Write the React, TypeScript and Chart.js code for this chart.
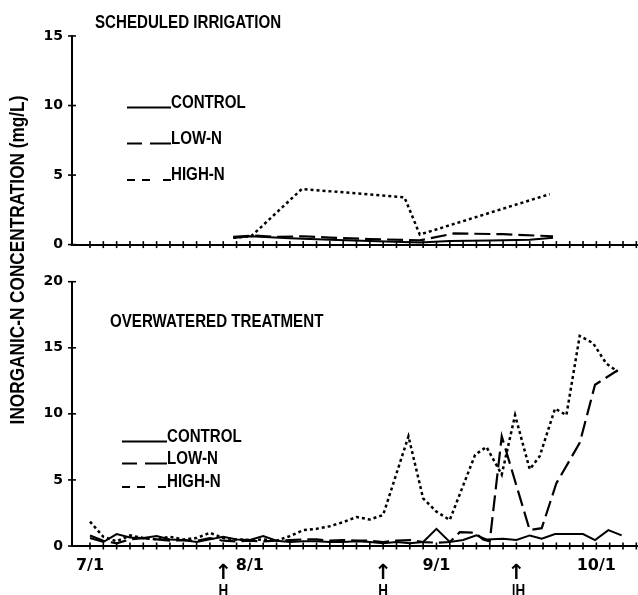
import { useEffect, useRef } from "react";
import { Chart, registerables } from "chart.js";

Chart.register(...registerables);

// x values are expressed in units of the axis tick marks (tick 0 = 7/1)
const xTickMarks = [
  0, 1, 2, 3, 4, 5, 6, 7, 8, 9, 10, 11, 12, 13, 14, 15, 16, 17, 18, 19, 20,
  21, 22, 23, 24, 25, 26, 27, 28, 29, 30, 31, 32, 33, 34, 35, 36, 37, 38, 39, 40, 41,
];
const dateTickPositions = [0, 12, 26, 38];
const dateTickLabels = ["7/1", "8/1", "9/1", "10/1"];
const harvestPositions = [10, 22, 32];
const harvestLabels = ["H", "H", "|H"];
const seriesLabels = ["CONTROL", "LOW-N", "HIGH-N"];

const topYTicks = [0, 5, 10, 15];
const bottomYTicks = [0, 5, 10, 15, 20];

// Scheduled irrigation
const schedControlX = [10.75, 12, 15, 18, 21, 24.75, 27, 30, 33, 34.75];
const schedControlY = [0.48, 0.6, 0.45, 0.35, 0.25, 0.15, 0.25, 0.3, 0.35, 0.5];
const schedLowX = [10.75, 12.2, 14, 16, 18, 21, 24.75, 27.3, 31, 34.75];
const schedLowY = [0.55, 0.65, 0.55, 0.6, 0.5, 0.4, 0.3, 0.8, 0.75, 0.6];
const schedHighX = [10.75, 12.1, 15.9, 23.6, 24.75, 34.5];
const schedHighY = [0.5, 0.6, 4.0, 3.4, 0.72, 3.63];

// Overwatered treatment
const overControlX = [
  0, 1, 2, 3, 4, 5, 6, 7, 8, 9, 10, 11, 12, 13, 14, 15, 16, 17, 18, 19, 20, 21,
  22, 23, 24, 25, 26, 27, 28, 29, 29.75, 31, 32, 33, 33.9, 34.9, 36, 37, 37.9, 38.9, 39.9,
];
const overControlY = [
  0.6, 0.3, 0.9, 0.65, 0.6, 0.75, 0.5, 0.45, 0.3, 0.5, 0.7, 0.5, 0.45, 0.75, 0.4,
  0.3, 0.35, 0.35, 0.3, 0.3, 0.35, 0.3, 0.2, 0.3, 0.2, 0.3, 1.3, 0.3, 0.45, 0.8,
  0.5, 0.55, 0.45, 0.8, 0.55, 0.9, 0.9, 0.9, 0.45, 1.2, 0.8,
];
const overLowX = [
  0, 1, 2, 3, 4, 5, 6, 7, 8, 9, 10, 11, 12, 13, 14, 15, 16, 17, 18, 19, 20, 21,
  22, 23, 24, 25, 26, 27, 27.75, 28.9, 29.5, 30, 30.9, 33, 33.9, 35, 36.75, 37.9, 39.6,
];
const overLowY = [
  0.8, 0.4, 0.2, 0.5, 0.6, 0.5, 0.4, 0.45, 0.4, 0.6, 0.4, 0.35, 0.4, 0.35, 0.4,
  0.45, 0.5, 0.5, 0.4, 0.45, 0.4, 0.4, 0.3, 0.4, 0.45, 0.3, 0.25, 0.3, 1.05, 1.0,
  0.5, 0.35, 8.3, 1.2, 1.35, 4.75, 7.8, 12.2, 13.3,
];
const overHighX = [
  0, 1, 2, 3, 4, 5, 6, 7, 8, 9, 10, 11, 12, 13, 14, 15, 16, 17, 18, 19, 20, 21,
  22, 23.9, 25, 26, 27, 28.9, 29.75, 30.9, 31.9, 33, 33.75, 34.9, 35.75, 36.75,
  37.75, 38.75, 39.6,
];
const overHighY = [
  1.85, 0.7, 0.35, 0.8, 0.6, 0.5, 0.7, 0.5, 0.6, 1.0, 0.6, 0.5, 0.45, 0.5, 0.4,
  0.75, 1.2, 1.3, 1.5, 1.8, 2.2, 2.0, 2.35, 8.3, 3.6, 2.6, 1.97, 6.9, 7.5, 5.4,
  9.9, 5.8, 6.8, 10.4, 9.9, 15.9, 15.35, 13.8, 13.2,
];

const SANS = "'Liberation Sans', Arial, sans-serif";
const SQUEEZE = 0.84;

const seriesStyles = [
  { borderDash: [] as number[], borderWidth: 2, legendDash: [] as number[] },
  { borderDash: [16, 6], borderWidth: 2.2, legendDash: [15, 8, 40] },
  { borderDash: [3, 3], borderWidth: 2.5, legendDash: [8, 7, 8, 13, 8, 40] },
];

function pts(xs: number[], ys: number[]) {
  return xs.map((x, i) => ({ x, y: ys[i] }));
}

function narrowText(ctx: CanvasRenderingContext2D, text: string, x: number, y: number) {
  ctx.save();
  ctx.translate(x, y);
  ctx.scale(SQUEEZE, 1);
  ctx.fillText(text, 0, 0);
  ctx.restore();
}

const decorPlugin = {
  id: "decor",
  afterDraw(chart: any, _args: any, opts: any) {
    const { ctx, chartArea } = chart;
    const xs = chart.scales.x;
    const ys = chart.scales.y;
    const line = (x1: number, y1: number, x2: number, y2: number) => {
      ctx.beginPath();
      ctx.moveTo(x1, y1);
      ctx.lineTo(x2, y2);
      ctx.stroke();
    };
    ctx.save();
    ctx.strokeStyle = "#000";
    ctx.fillStyle = "#000";
    ctx.lineWidth = 1.6;
    const y0 = ys.getPixelForValue(0);
    for (const t of xTickMarks) {
      const px = xs.getPixelForValue(t);
      if (px > chartArea.right + 0.5) continue;
      line(px, y0 - 3.5, px, y0 + 3.5);
    }
    for (const v of opts.yTicks) {
      const py = ys.getPixelForValue(v);
      line(chartArea.left - 4, py, chartArea.left + 4, py);
    }
    // legend
    ctx.font = `bold 18px ${SANS}`;
    ctx.textBaseline = "alphabetic";
    ctx.textAlign = "left";
    chart.data.datasets.forEach((ds: any, i: number) => {
      const ly = opts.legendRows[i];
      ctx.lineWidth = 2;
      ctx.setLineDash(ds.legendDash || []);
      line(opts.legendX0, ly, opts.legendX1, ly);
      ctx.setLineDash([]);
      narrowText(ctx, ds.label, opts.legendX1, ly);
    });
    // panel title
    narrowText(ctx, opts.title, opts.titleX, opts.titleY);
    // harvest markers
    if (opts.harvest) {
      harvestPositions.forEach((t, i) => {
        const px = xs.getPixelForValue(t);
        ctx.textAlign = "center";
        ctx.textBaseline = "middle";
        ctx.font = "bold 21px 'DejaVu Sans', sans-serif";
        ctx.fillText("\u2191", px, opts.arrowY);
        ctx.textBaseline = "top";
        ctx.font = `bold 16px ${SANS}`;
        const label = harvestLabels[i];
        narrowText(ctx, label, px + (label.length > 1 ? 2 : 0), opts.hY);
      });
    }
    ctx.restore();
  },
};

function makeConfig(p: {
  datasets: { x: number[]; y: number[] }[];
  yMax: number;
  yTicks: number[];
  padTop: number;
  xAxisH: number;
  showX: boolean;
  decor: any;
}): any {
  return {
    type: "line",
    data: {
      datasets: p.datasets.map((d, i) => ({
        label: seriesLabels[i],
        data: pts(d.x, d.y),
        borderColor: "#000",
        backgroundColor: "#000",
        borderWidth: seriesStyles[i].borderWidth,
        borderDash: seriesStyles[i].borderDash,
        legendDash: seriesStyles[i].legendDash,
        pointRadius: 0,
        tension: 0,
        fill: false,
      })),
    },
    options: {
      animation: false,
      responsive: false,
      layout: { padding: { top: p.padTop, right: 1, left: 0, bottom: 0 } },
      plugins: {
        legend: { display: false },
        tooltip: { enabled: false },
        decor: p.decor,
      },
      scales: {
        x: {
          type: "linear",
          min: -1.35,
          max: 41.05,
          afterFit: (s: any) => {
            s.height = p.xAxisH;
          },
          afterBuildTicks: (s: any) => {
            s.ticks = dateTickPositions.map((v) => ({ value: v }));
          },
          grid: { display: false, drawTicks: false },
          border: { display: true, color: "#000", width: 2 },
          ticks: {
            display: p.showX,
            autoSkip: false,
            maxRotation: 0,
            padding: 10,
            color: "#000",
            font: { family: "'DejaVu Sans', sans-serif", weight: "bold", size: 16 },
            callback: (v: number) => {
              const k = dateTickPositions.indexOf(v);
              return k >= 0 ? dateTickLabels[k] : "";
            },
          },
        },
        y: {
          min: 0,
          max: p.yMax,
          afterFit: (s: any) => {
            s.width = 72;
          },
          afterBuildTicks: (s: any) => {
            s.ticks = p.yTicks.map((v) => ({ value: v }));
          },
          grid: { display: false, drawTicks: false },
          border: { display: true, color: "#000", width: 2 },
          ticks: {
            padding: 9,
            color: "#000",
            font: { family: "'DejaVu Sans', sans-serif", weight: "bold", size: 14 },
          },
        },
      },
    },
    plugins: [decorPlugin],
  };
}

export default function App() {
  const topRef = useRef<HTMLCanvasElement>(null);
  const botRef = useRef<HTMLCanvasElement>(null);

  useEffect(() => {
    document.body.style.margin = "0";
    const top = new Chart(
      topRef.current as HTMLCanvasElement,
      makeConfig({
        datasets: [
          { x: schedControlX, y: schedControlY },
          { x: schedLowX, y: schedLowY },
          { x: schedHighX, y: schedHighY },
        ],
        yMax: 15,
        yTicks: topYTicks,
        padTop: 36,
        xAxisH: 13.5,
        showX: false,
        decor: {
          yTicks: topYTicks,
          legendX0: 127,
          legendX1: 171,
          legendRows: [107.5, 143.5, 180],
          title: "SCHEDULED IRRIGATION",
          titleX: 95,
          titleY: 28,
          harvest: false,
        },
      })
    );
    const bot = new Chart(
      botRef.current as HTMLCanvasElement,
      makeConfig({
        datasets: [
          { x: overControlX, y: overControlY },
          { x: overLowX, y: overLowY },
          { x: overHighX, y: overHighY },
        ],
        yMax: 20,
        yTicks: bottomYTicks,
        padTop: 19.7,
        xAxisH: 49,
        showX: true,
        decor: {
          yTicks: bottomYTicks,
          legendX0: 122,
          legendX1: 167,
          legendRows: [179.5, 201.5, 225],
          title: "OVERWATERED TREATMENT",
          titleX: 110,
          titleY: 65,
          harvest: true,
          arrowY: 312,
          hY: 322,
        },
      })
    );
    return () => {
      top.destroy();
      bot.destroy();
    };
  }, []);

  return (
    <div style={{ position: "relative", width: 638, height: 595, background: "#fff", overflow: "hidden" }}>
      <canvas
        ref={topRef}
        width={638}
        height={262}
        style={{ position: "absolute", left: 0, top: 0, width: 638, height: 262 }}
      />
      <canvas
        ref={botRef}
        width={638}
        height={333}
        style={{ position: "absolute", left: 0, top: 262, width: 638, height: 333 }}
      />
      <div
        style={{
          position: "absolute",
          left: 17 - 250,
          top: 260 - 12,
          width: 500,
          height: 24,
          lineHeight: "24px",
          textAlign: "center",
          transform: "rotate(-90deg) scaleX(0.82)",
          fontFamily: SANS,
          fontWeight: "bold",
          fontSize: 21,
          color: "#000",
          whiteSpace: "nowrap",
        }}
      >
        INORGANIC-N CONCENTRATION (mg/L)
      </div>
    </div>
  );
}
